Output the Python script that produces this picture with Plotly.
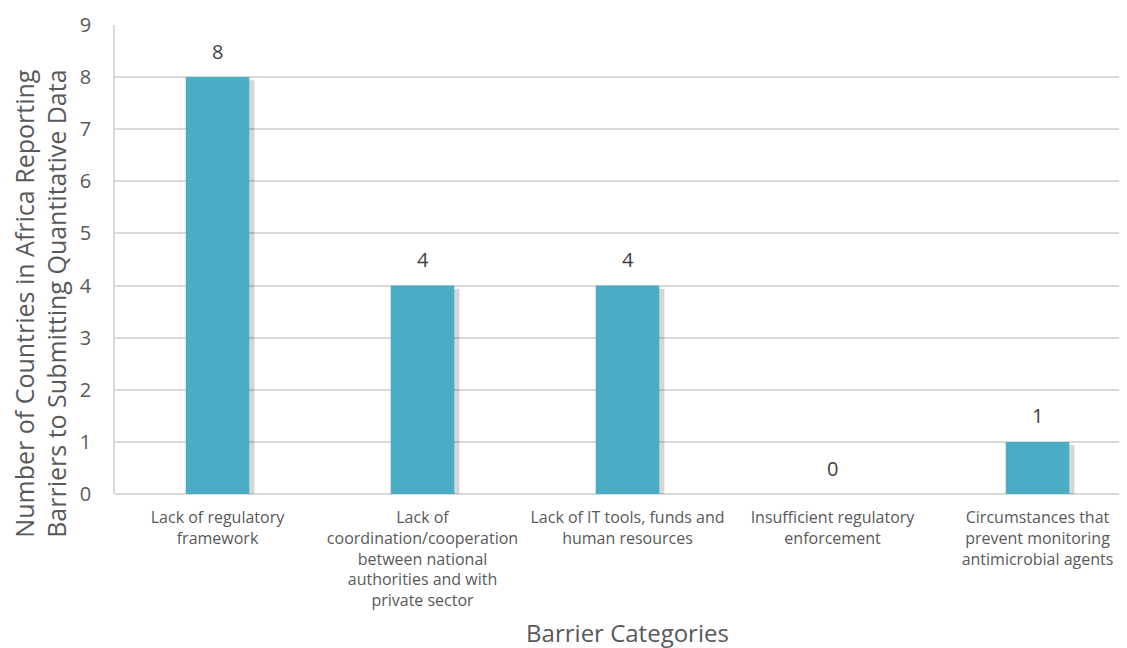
import plotly.graph_objects as go

categories = [
    "Lack of regulatory<br>framework",
    "Lack of<br>coordination/cooperation<br>between national<br>authorities and with<br>private sector",
    "Lack of IT tools, funds and<br>human resources",
    "Insufficient regulatory<br>enforcement",
    "Circumstances that<br>prevent monitoring<br>antimicrobial agents",
]
countries = [8, 4, 4, 0, 1]
y_ticks = [0, 1, 2, 3, 4, 5, 6, 7, 8, 9]
y_title = "Number of Countries in Africa Reporting<br>Barriers to Submitting Quantitative Data"

font_family = "Open Sans, sans-serif"
txt_color = "#595959"
bar_w = 0.31

fig = go.Figure()

# fake drop shadow behind each bar
fig.add_trace(go.Bar(
    x=categories, y=countries, base=-0.06,
    width=bar_w, offset=-bar_w / 2 + 0.025,
    marker=dict(color="rgba(0,0,0,0.16)", line=dict(width=0)),
    hoverinfo="skip", showlegend=False,
))
fig.add_trace(go.Bar(
    x=categories, y=countries,
    width=bar_w, offset=-bar_w / 2,
    marker=dict(color="#4bacc6", line=dict(width=0)),
    showlegend=False,
))

for c, v in zip(categories, countries):
    fig.add_annotation(x=c, y=v, text=str(v), showarrow=False,
                       yanchor="middle", yshift=26,
                       font=dict(size=20, color="#404040"))

# y title sits lower than the plot centre, so place it by hand
fig.add_annotation(text=y_title, xref="paper", yref="paper",
                   x=-0.0735, y=0.407, xanchor="center", yanchor="middle",
                   textangle=-90, showarrow=False, borderpad=0,
                   font=dict(size=25, color=txt_color))

# page body has an 8px margin; the plot area runs a bit past the right edge
fig.update_layout(
    width=1132, height=660,
    margin=dict(l=107, r=0, t=17, b=174),
    barmode="overlay",
    plot_bgcolor="white", paper_bgcolor="white",
    font=dict(family=font_family, color=txt_color),
)
fig.update_xaxes(
    showgrid=False, showline=False, zeroline=False,
    tickfont=dict(size=16, color=txt_color),
    ticklabelstandoff=12,
    automargin=False,
    title=dict(text="Barrier Categories", font=dict(size=24, color=txt_color),
               standoff=14),
)
fig.update_yaxes(
    range=[0, 9], tickvals=y_ticks, showgrid=True, gridcolor="#d9d9d9",
    gridwidth=1.5, zeroline=True, zerolinecolor="#d9d9d9", zerolinewidth=1.5,
    showline=True, linecolor="#d9d9d9", linewidth=1.5,
    tickfont=dict(size=20, color=txt_color),
    ticklabelstandoff=18,
    automargin=False,
)

fig.write_html("out.html")
